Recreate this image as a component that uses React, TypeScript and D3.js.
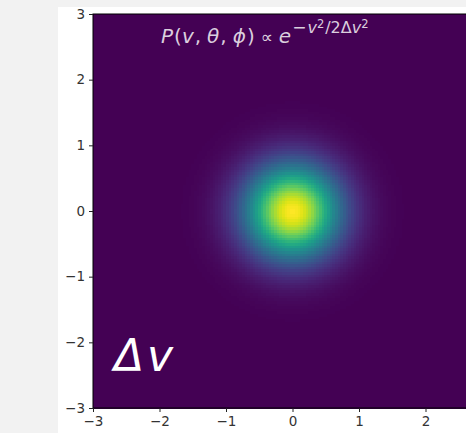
import React, { useRef, useEffect } from "react";
import * as d3 from "d3";

// axis ticks (same on both axes)
const tickValues = [-3, -2, -1, 0, 1, 2, 3];
// extent of the image in data units
const extentX = [-3, 3];
const extentY = [-3, 3];
// width of the velocity distribution (Δv) and grid resolution
const deltaV = 0.5;
const gridSize = 150;

const W = 466;
const H = 433;

const App = () => {
  const ref = useRef<SVGSVGElement>(null);

  useEffect(() => {
    const svg = d3.select(ref.current);
    svg.selectAll("*").remove();

    const left = 93,
      top = 14,
      right = 492,
      bottom = 408;

    const x = d3.scaleLinear().domain(extentX).range([left, right]);
    const y = d3.scaleLinear().domain(extentY).range([bottom, top]);

    // figure backgrounds
    svg.append("rect").attr("width", W).attr("height", H).attr("fill", "#f2f2f2");
    svg
      .append("rect")
      .attr("x", 58)
      .attr("y", 7)
      .attr("width", W - 58)
      .attr("height", H - 7)
      .attr("fill", "#ffffff");

    // grid cells of the density
    const step = (extentX[1] - extentX[0]) / gridSize;
    const centers = d3.range(gridSize).map((i) => extentX[0] + (i + 0.5) * step);
    const cells: { cx: number; cy: number; v: number }[] = [];
    centers.forEach((cx) =>
      centers.forEach((cy) => {
        const r2 = cx * cx + cy * cy;
        cells.push({ cx, cy, v: Math.exp(-r2 / (2 * deltaV * deltaV)) });
      })
    );
    const color = d3.scaleSequential(d3.interpolateViridis).domain([0, 1]);

    const cw = x(step) - x(0);
    const ch = y(0) - y(step);
    svg
      .append("g")
      .attr("shape-rendering", "crispEdges")
      .selectAll("rect")
      .data(cells.filter((d) => x(d.cx - step / 2) < W))
      .enter()
      .append("rect")
      .attr("x", (d) => x(d.cx - step / 2))
      .attr("y", (d) => y(d.cy + step / 2))
      .attr("width", cw + 0.6)
      .attr("height", ch + 0.6)
      .attr("fill", (d) => color(d.v));

    // frame
    svg
      .append("rect")
      .attr("x", left)
      .attr("y", top)
      .attr("width", right - left)
      .attr("height", bottom - top)
      .attr("fill", "none")
      .attr("stroke", "#000")
      .attr("stroke-width", 1);

    const fmt = (d: number) => (d < 0 ? "\u2212" + Math.abs(d) : String(d));

    // only the x ticks that fall inside the figure are drawn
    const xTicks = tickValues.filter((t) => x(t) < W - 10);
    const xAxis = svg
      .append("g")
      .attr("transform", `translate(0,${bottom})`)
      .call(d3.axisBottom(x).tickValues(xTicks).tickSize(4).tickPadding(4).tickFormat(fmt as any));
    const yAxis = svg
      .append("g")
      .attr("transform", `translate(${left},0)`)
      .call(d3.axisLeft(y).tickValues(tickValues).tickSize(4).tickPadding(4).tickFormat(fmt as any));

    [xAxis, yAxis].forEach((a) => {
      a.select(".domain").remove();
      a.selectAll("line").attr("stroke", "#222");
      a.selectAll("text")
        .attr("fill", "#333")
        .style("font-family", "DejaVu Sans")
        .style("font-size", "13.5px");
    });

    // title
    const title = svg
      .append("text")
      .attr("x", 161)
      .attr("y", 43)
      .attr("fill", "#ffffff")
      .attr("fill-opacity", 0.82)
      .style("font-family", "DejaVu Sans")
      .style("font-size", "20px");
    title.append("tspan").attr("font-style", "italic").text("P");
    title.append("tspan").attr("dx", 1).text("(");
    title.append("tspan").attr("font-style", "italic").text("v");
    title.append("tspan").attr("dx", 1).text(",");
    title.append("tspan").attr("dx", 6).attr("font-style", "italic").text("θ");
    title.append("tspan").attr("dx", 1).text(",");
    title.append("tspan").attr("dx", 6).attr("font-style", "italic").text("ϕ");
    title.append("tspan").attr("dx", 1).text(")");
    title.append("tspan").attr("dx", 6).style("font-size", "17px").text("∝");
    title.append("tspan").attr("dx", 6).attr("font-style", "italic").text("e");
    title
      .append("tspan")
      .attr("dx", 1)
      .attr("dy", -10)
      .style("font-size", "17px")
      .text("\u2212");
    title.append("tspan").attr("dx", 1).attr("font-style", "italic").style("font-size", "16px").text("v");
    title.append("tspan").attr("dy", -5).style("font-size", "11.5px").text("2");
    title.append("tspan").attr("dx", 1).attr("dy", 5).style("font-size", "16px").text("/2Δ");
    title.append("tspan").attr("font-style", "italic").style("font-size", "16px").text("v");
    title.append("tspan").attr("dy", -5).style("font-size", "11.5px").text("2");

    // Δv label
    const dv = svg
      .append("text")
      .attr("x", 114)
      .attr("y", 371)
      .attr("fill", "#ffffff")
      .attr("font-style", "italic")
      .style("font-family", "DejaVu Sans")
      .style("font-size", "44px");
    dv.append("tspan").text("Δ");
    dv.append("tspan").attr("dx", 3).text("v");
  }, []);

  return (
    <svg
      ref={ref}
      width={W}
      height={H}
      style={{ display: "block", position: "absolute", left: 0, top: 0, overflow: "hidden" }}
    />
  );
};

export default App;
